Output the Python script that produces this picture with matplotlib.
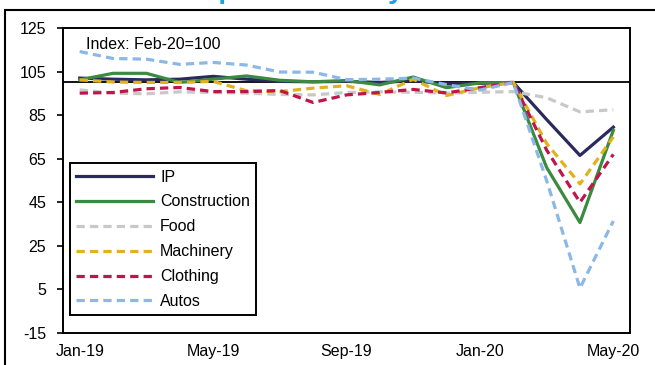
import matplotlib
matplotlib.use("Agg")
import matplotlib.pyplot as plt
from matplotlib.patches import Rectangle

plt.rcParams['font.family'] = ['Liberation Sans', 'DejaVu Sans']
plt.rcParams['axes.unicode_minus'] = False

# monthly index, Feb-20 = 100
months = ['Jan-19', 'Feb-19', 'Mar-19', 'Apr-19', 'May-19', 'Jun-19', 'Jul-19', 'Aug-19',
          'Sep-19', 'Oct-19', 'Nov-19', 'Dec-19', 'Jan-20', 'Feb-20', 'Mar-20', 'Apr-20', 'May-20']
ip = [102, 101.5, 101.2, 101.5, 102.8, 101.5, 100.5, 100.3, 100.5, 100, 100.8, 99.3, 99.6, 100, 83, 66.5, 79.5]
construction = [101.2, 104.2, 104.2, 100, 101.5, 103, 101, 100.3, 100.9, 98.9, 102.5, 97.6, 99.8, 100, 61, 35.7, 78]
food = [96.6, 95.1, 94.8, 95.7, 95.4, 95.1, 94.5, 94.3, 95.4, 95.7, 95.5, 95.1, 95.5, 95.8, 93, 86.5, 87.5]
machinery = [101.2, 100.2, 100, 100, 100.5, 96.2, 95.8, 97.4, 98.5, 94.5, 101.5, 94, 97.6, 100, 72, 53.4, 75]
clothing = [95.1, 95.4, 97.1, 97.7, 95.8, 95.8, 96.3, 90.8, 94.3, 95.4, 96.8, 95.2, 97.6, 100, 69, 45, 67]
autos = [114.2, 111, 110.7, 108.3, 109.2, 108, 104.8, 104.7, 101.3, 101.5, 102, 99, 96.5, 100, 55, 5.6, 36.4]

series = [
    ('IP', ip, '#2b2a5e', 'solid'),
    ('Construction', construction, '#3a8a3f', 'solid'),
    ('Food', food, '#c8c8c8', 'dashed'),
    ('Machinery', machinery, '#e0b21c', 'dashed'),
    ('Clothing', clothing, '#c0144a', 'dashed'),
    ('Autos', autos, '#8bb8e6', 'dashed'),
]

fig = plt.figure(figsize=(6.55, 3.65), dpi=100)
ax = fig.add_axes([63 / 655, 1 - 333 / 365, 567 / 655, 305 / 365])

x = list(range(len(months)))
ax.axhline(100, color='black', lw=1.3, zorder=1)
for name, vals, col, style in series:
    if style == 'solid':
        ax.plot(x, vals, color=col, lw=2.3, label=name, zorder=2)
    else:
        ax.plot(x, vals, color=col, lw=2.3, label=name, dashes=(2.6, 1.6), zorder=2)

ax.set_xlim(-0.5, 16.5)
ax.set_ylim(-15, 125)
ax.set_yticks(range(-15, 126, 20))
ax.set_xticks(x[::4])
ax.set_xticklabels(months[::4])
ax.tick_params(axis='y', direction='out', length=4, width=1.2, labelsize=11.5, pad=8)
ax.tick_params(axis='x', length=0, labelsize=11.5, pad=8)
for s in ax.spines.values():
    s.set_linewidth(1.4)

ax.text(0.2, 117.5, 'Index: Feb-20=100', fontsize=11.5, ha='left', va='center')

leg = ax.legend(loc='upper left', bbox_to_anchor=(0.012, 0.557), borderaxespad=0,
                fontsize=11.5, handlelength=4.8, handletextpad=0.45, labelspacing=0.62,
                fancybox=False, framealpha=1, edgecolor='black', borderpad=0.4)
leg.get_frame().set_linewidth(1.4)

# outer frame and title running off the top edge
fig.add_artist(Rectangle((5 / 655, -0.1), 1.2, 1.1 - 10 / 365, transform=fig.transFigure,
                         fill=False, ec='black', lw=1.5, clip_on=False))
fig.text(290 / 655, 1 + 1.5 / 365, 'Industrial production by sector', color='#1ba1e2',
         fontsize=20, fontweight='bold', ha='center', va='baseline')

fig.savefig('out.png', dpi=100)
